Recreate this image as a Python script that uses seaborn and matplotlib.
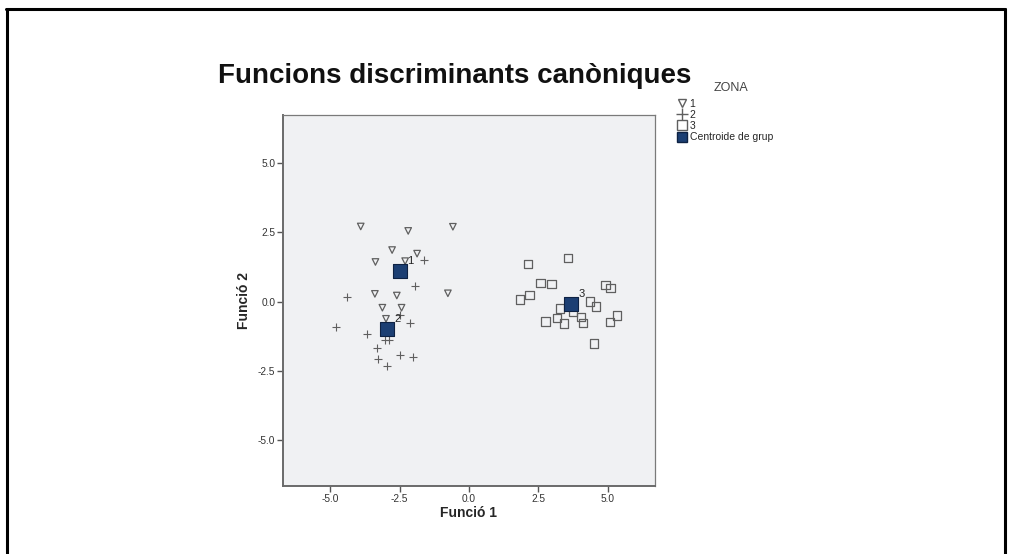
import matplotlib
matplotlib.use("Agg")
import matplotlib.pyplot as plt
import seaborn as sns
import pandas as pd
from matplotlib.lines import Line2D

# Puntuacions discriminants per zona
zona1_x = [-3.90, -2.19, -0.58, -2.77, -1.87, -3.37, -2.30, -3.39, -2.60, -0.76, -3.12, -2.43, -2.99]
zona1_y = [2.71, 2.55, 2.70, 1.86, 1.73, 1.43, 1.46, 0.28, 0.22, 0.30, -0.22, -0.22, -0.62]

zona2_x = [-1.63, -1.93, -4.40, -4.78, -3.69, -2.11, -2.49, -3.02, -2.89, -3.32, -3.28, -2.49, -2.03, -2.96]
zona2_y = [1.50, 0.58, 0.15, -0.92, -1.15, -0.77, -0.49, -1.39, -1.39, -1.68, -2.06, -1.93, -2.00, -2.31]

zona3_x = [2.12, 3.57, 2.58, 2.97, 4.92, 5.10, 1.83, 2.18, 4.35, 4.57, 3.27, 3.75, 3.18, 3.42, 2.76,
           4.03, 4.11, 5.32, 5.08, 4.50]
zona3_y = [1.36, 1.57, 0.66, 0.64, 0.59, 0.48, 0.08, 0.23, 0.00, -0.18, -0.25, -0.36, -0.58, -0.79, -0.72,
           -0.56, -0.78, -0.50, -0.74, -1.51]

centroides_x = [-2.48, -2.94, 3.69]
centroides_y = [1.10, -1.00, -0.07]
centroides_lbl = ["1", "2", "3"]

df = pd.DataFrame({
    "x": zona1_x + zona2_x + zona3_x,
    "y": zona1_y + zona2_y + zona3_y,
    "ZONA": ["1"] * len(zona1_x) + ["2"] * len(zona2_x) + ["3"] * len(zona3_x),
})
cent = pd.DataFrame({"x": centroides_x, "y": centroides_y, "lbl": centroides_lbl})

sns.set_style("white")
plt.rcParams["font.family"] = ["Liberation Sans", "DejaVu Sans"]

gris = "#5f5f5f"
blau = "#1c3f73"

fig = plt.figure(figsize=(10.1, 5.54), dpi=100)
ax = fig.add_axes([0.2802, 0.1227, 0.3683, 0.6697])
ax.set_facecolor("#f0f1f3")

for z, mk, sz in [("1", "v", 22), ("3", "s", 36)]:
    sub = df[df["ZONA"] == z]
    sns.scatterplot(data=sub, x="x", y="y", marker=mk, s=sz, facecolor="none",
                    edgecolor=gris, linewidth=0.9, ax=ax, legend=False)
sub = df[df["ZONA"] == "2"]
sns.scatterplot(data=sub, x="x", y="y", marker="+", s=36, color=gris,
                linewidth=0.8, ax=ax, legend=False)

sns.scatterplot(data=cent, x="x", y="y", marker="s", s=100, color=blau,
                edgecolor="#0e2243", linewidth=0.8, ax=ax, legend=False, zorder=5)
for _, r in cent.iterrows():
    ax.text(r["x"] + 0.25, r["y"] + 0.25, r["lbl"], fontsize=8, color="#222222")

ax.set_xlim(-6.7, 6.7)
ax.set_ylim(-6.65, 6.73)
ticks = [-5.0, -2.5, 0.0, 2.5, 5.0]
ax.set_xticks(ticks)
ax.set_yticks(ticks)
ax.set_xticklabels([f"{t:.1f}" for t in ticks], fontsize=7.3, color="#333333")
ax.set_yticklabels([f"{t:.1f}" for t in ticks], fontsize=7.3, color="#333333")
ax.tick_params(direction="out", length=4, width=1, color="#555555", pad=1.5,
               bottom=True, left=True)
for s in ["left", "bottom"]:
    ax.spines[s].set_color("#6a6a6a")
    ax.spines[s].set_linewidth(1.4)
for s in ["top", "right"]:
    ax.spines[s].set_color("#7a7a7a")
    ax.spines[s].set_linewidth(0.9)

ax.set_xlabel("Funció 1", fontsize=10, fontweight="bold", labelpad=2)
ax.set_ylabel("Funció 2", fontsize=10, fontweight="bold", labelpad=5)

fig.text(0.216, 0.851, "Funcions discriminants canòniques", fontsize=20,
         fontweight="bold", color="#111111", va="baseline")
fig.text(0.7235, 0.841, "ZONA", fontsize=9, color="#444444", ha="center", va="center")

handles = [
    Line2D([], [], marker="v", linestyle="none", markerfacecolor="none",
           markeredgecolor=gris, markersize=5.5),
    Line2D([], [], marker="+", linestyle="none", color=gris, markersize=8),
    Line2D([], [], marker="s", linestyle="none", markerfacecolor="none",
           markeredgecolor=gris, markersize=7.5),
    Line2D([], [], marker="s", linestyle="none", markerfacecolor=blau,
           markeredgecolor="#0e2243", markersize=7.5),
]
fig.legend(handles, ["1", "2", "3", "Centroide de grup"], loc="upper left",
           bbox_to_anchor=(0.672, 0.822), frameon=False, fontsize=7.5,
           handlelength=0.7, handletextpad=0.35, labelspacing=0.12,
           borderpad=0, borderaxespad=0)

# marc negre de la diapositiva
fig.add_artist(Line2D([0.006, 0.995], [0.984, 0.984], color="black", lw=2.2,
                      transform=fig.transFigure))
fig.add_artist(Line2D([0.0065, 0.0065], [0.984, 0.0], color="black", lw=2.2,
                      transform=fig.transFigure))
fig.add_artist(Line2D([0.995, 0.995], [0.984, 0.0], color="black", lw=2.2,
                      transform=fig.transFigure))

fig.savefig("out.png", dpi=100, facecolor="white")
